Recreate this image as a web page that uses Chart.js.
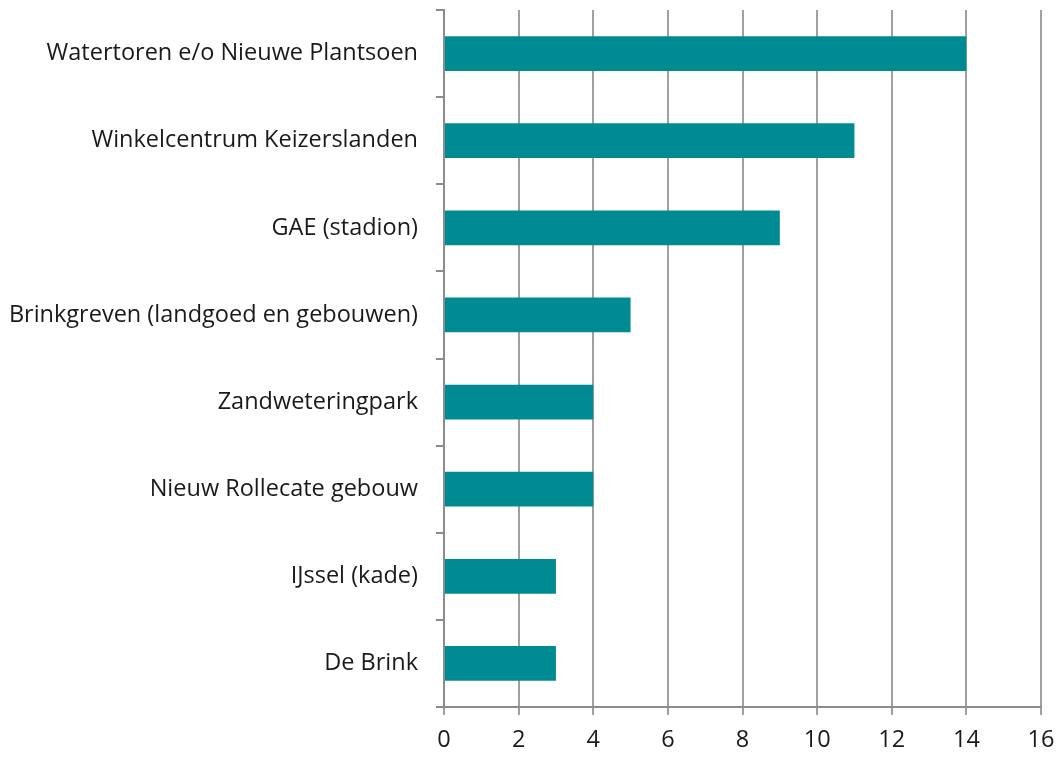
<!DOCTYPE html>
<html lang="nl">
<head>
    <meta charset="UTF-8">
    <title>Locaties</title>
    <script src="https://cdn.jsdelivr.net/npm/chart.js"></script>
    <style>
        html, body { margin: 0; padding: 0; background: #ffffff; }
        #wrap { position: relative; width: 1057px; height: 757px; }
    </style>
</head>
<body>
    <div id="wrap">
        <canvas id="grafico" width="1057" height="757"></canvas>
    </div>

    <script>
        // Gegevens uit de grafiek
        const locaties = [
            'Watertoren e/o Nieuwe Plantsoen',
            'Winkelcentrum Keizerslanden',
            'GAE (stadion)',
            'Brinkgreven (landgoed en gebouwen)',
            'Zandweteringpark',
            'Nieuw Rollecate gebouw',
            'IJssel (kade)',
            'De Brink'
        ];
        const aantallen = [14, 11, 9, 5, 4, 4, 3, 3];
        const xMin = 0;
        const xMax = 16;
        const xStap = 2;

        const lettertype = "'Open Sans', sans-serif";

        const config = {
            type: 'bar',
            data: {
                labels: locaties,
                datasets: [{
                    data: aantallen,
                    backgroundColor: '#008B93',
                    borderWidth: 0,
                    barPercentage: 0.4,
                    categoryPercentage: 1
                }]
            },
            options: {
                indexAxis: 'y',
                responsive: false,
                animation: false,
                layout: {
                    padding: { top: 10, right: 16, left: 0, bottom: 0 }
                },
                plugins: {
                    legend: { display: false },
                    tooltip: { enabled: false }
                },
                scales: {
                    x: {
                        min: xMin,
                        max: xMax,
                        ticks: {
                            stepSize: xStap,
                            color: '#1a1a1a',
                            padding: 11,
                            font: { family: lettertype, size: 23.5 }
                        },
                        grid: {
                            color: '#a0a0a0',
                            lineWidth: 2,
                            tickLength: 8,
                            drawTicks: true
                        },
                        border: { color: '#8c8c8c', width: 2 },
                        afterFit: function (scale) {
                            scale.height = 50;
                            scale.paddingRight = 0;
                            scale.paddingLeft = 0;
                        }
                    },
                    y: {
                        ticks: {
                            color: '#1a1a1a',
                            padding: 18,
                            font: { family: lettertype, size: 23.5 }
                        },
                        grid: {
                            drawOnChartArea: false,
                            offset: true,
                            color: '#8c8c8c',
                            lineWidth: 2,
                            tickLength: 8
                        },
                        border: { color: '#8c8c8c', width: 2 },
                        afterFit: function (scale) {
                            scale.width = 444;
                            scale.paddingTop = 0;
                            scale.paddingBottom = 0;
                        }
                    }
                }
            }
        };

        new Chart(document.getElementById('grafico'), config);
    </script>
</body>
</html>
